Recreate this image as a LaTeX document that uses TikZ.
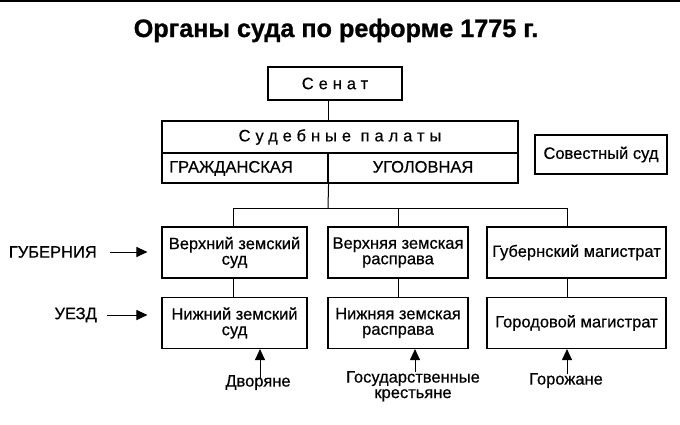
\documentclass[tikz,border=0pt]{standalone}
\usepackage{fontspec}
\setmainfont[FakeBold=0.5]{Liberation Sans}
\newfontfamily\spaced[LetterSpace=30,FakeBold=0.5]{Liberation Sans}
\newfontfamily\titlefont[FakeBold=1]{Liberation Sans Bold}
\usetikzlibrary{arrows.meta}
\begin{document}
\begin{tikzpicture}[x=1pt,y=-1pt,
  font=\fontsize{16.5}{15.5}\selectfont,
  box/.style={draw, line width=1.1pt, inner sep=0pt, align=center},
  fixed/.style={text height=12pt, text depth=3pt},
  link/.style={line width=1pt},
  arr/.style={line width=1pt, -{Triangle[length=11pt,width=10pt]}},
  lbl/.style={inner sep=0pt, align=center}]
\useasboundingbox (0,0) rectangle (680,424);
\fill (0,0) rectangle (680,2);
\node[lbl, anchor=base, font=\titlefont\fontsize{25.2}{28}\selectfont] (title) at (336,37) {Органы суда по реформе 1775 г.};
% top part
\node[box, minimum width=134pt, minimum height=33pt] (senat) at (335,83.5) {{\spaced Сенат}};
\node[box, minimum width=356pt, minimum height=32pt] (paltop) at (340,137) {{\spaced Судебные палаты}};
\node[box, fixed, minimum width=166pt, minimum height=30pt] (grazh) at (245,168) {ГРАЖДАНСКАЯ\hspace*{28pt}};
\node[box, fixed, minimum width=190pt, minimum height=30pt] (ugol) at (423,168) {УГОЛОВНАЯ};
\node[box, minimum width=132pt, minimum height=39pt] (sovest) at (601,154.5) {Совестный суд};
% rows
\node[box, minimum width=145pt, minimum height=51pt] (verh1) at (234.5,252.5) {Верхний земский\\суд};
\node[box, minimum width=145pt, minimum height=51pt] (nizh1) at (234.5,323) {Нижний земский\\суд};
\node[box, minimum width=140pt, minimum height=51pt] (verh2) at (398,252.5) {Верхняя земская\\расправа};
\node[box, minimum width=140pt, minimum height=51pt] (nizh2) at (398,323) {Нижняя земская\\расправа};
\node[box, minimum width=179pt, minimum height=51pt] (gubmag) at (576.5,252.5) {Губернский магистрат};
\node[box, minimum width=179pt, minimum height=51pt] (gormag) at (576.5,323) {Городовой магистрат};
% connectors
\coordinate (bus) at (328,208);
\coordinate (b1) at (233,208);
\coordinate (b3) at (567,208);
\draw[link] (senat.south -| grazh.east) -- (paltop.north -| grazh.east);
\draw[link] (grazh.south east) -- (bus);
\draw[link] (b1) -- (b3);
\draw[link] (b1) -- (b1 |- verh1.north);
\draw[link] (verh2.north |- bus) -- (verh2.north);
\draw[link] (b3) -- (b3 |- gubmag.north);
\draw[link] (verh1.south -| b1) -- (nizh1.north -| b1);
\draw[link] (verh2.south) -- (nizh2.north);
\draw[link] (gubmag.south -| b3) -- (gormag.north -| b3);
% side labels
\node[lbl, anchor=east] (gub) at (97,252) {ГУБЕРНИЯ};
\node[lbl, anchor=east] (uezd) at (97,315) {УЕЗД};
\draw[arr] ([xshift=13pt]gub.east) -- ([xshift=-14pt]gub.east -| verh1.west);
\draw[arr] ([xshift=10pt]uezd.east) -- ([xshift=-14pt]uezd.east -| nizh1.west);
% bottom labels
\node[lbl, anchor=north] (dvor) at (258,375) {Дворяне};
\node[lbl, anchor=north] (gosk) at (413,371) {Государственные\\крестьяне};
\node[lbl, anchor=north] (gorozh) at (566,373) {Горожане};
\draw[arr] ([xshift=2pt,yshift=-3pt]dvor.north) -- ([xshift=2pt]dvor.north |- nizh1.south);
\draw[arr] ([xshift=2pt,yshift=-1pt]gosk.north) -- ([xshift=2pt]gosk.north |- nizh2.south);
\draw[arr] ([xshift=1pt,yshift=-1pt]gorozh.north) -- ([xshift=1pt]gorozh.north |- gormag.south);
\end{tikzpicture}
\end{document}
